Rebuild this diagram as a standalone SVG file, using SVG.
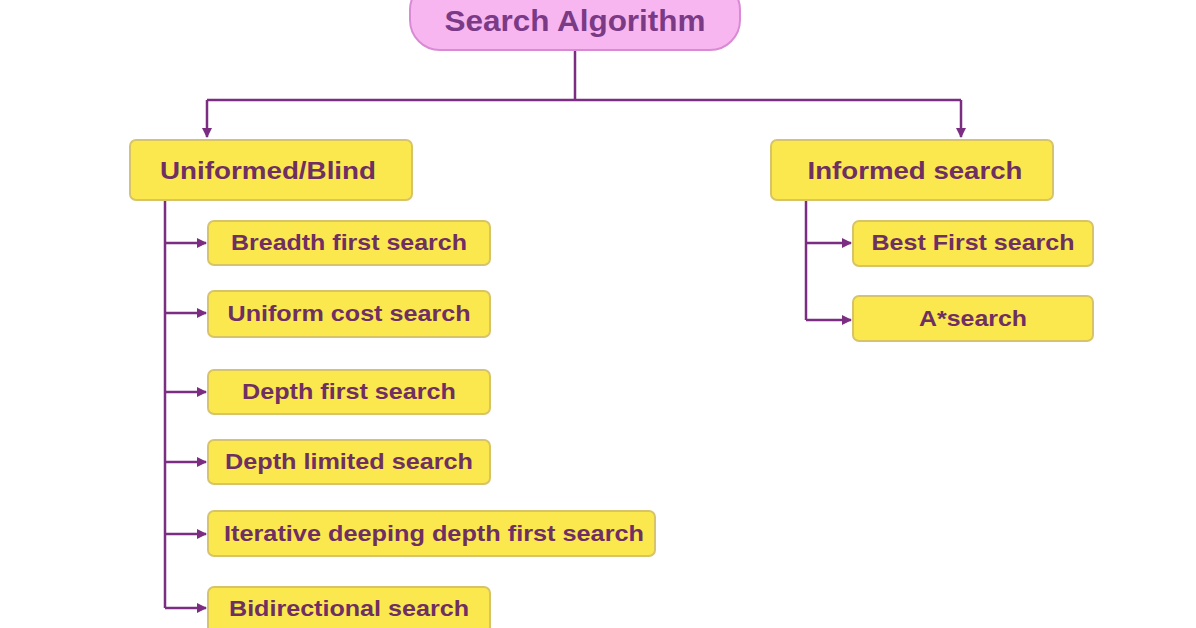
<svg xmlns="http://www.w3.org/2000/svg" width="1196" height="628" viewBox="0 0 1196 628">
<defs>
<marker id="ah" viewBox="0 0 10 10" refX="9" refY="5" markerWidth="10" markerHeight="10" markerUnits="userSpaceOnUse" orient="auto">
<path d="M0,0 L10,5 L0,10 z" fill="#7b2d82"/>
</marker>
<style>
.root{fill:#f8b6f0;stroke:#d88ad4;stroke-width:2}
.box{fill:#fbe84e;stroke:#d8c468;stroke-width:2}
.t{font-family:"Liberation Sans",Arial,sans-serif;font-weight:bold;fill:#6e2f62;text-anchor:middle}
.rt{font-size:29px;fill:#7a3a86}
.h{font-size:24px}
.c{font-size:22px}
.ln{fill:none;stroke:#7b2d82;stroke-width:2.5}
</style>
</defs>
<rect width="1196" height="628" fill="#ffffff"/>
<g id="connectors">
<path class="ln" d="M575,50 V100 M207,100 H961"/>
<path class="ln" d="M207,100 V137" marker-end="url(#ah)"/>
<path class="ln" d="M961,100 V137" marker-end="url(#ah)"/>
<path class="ln" d="M165,200 V608"/>
<path class="ln" d="M165,243 H206" marker-end="url(#ah)"/>
<path class="ln" d="M165,313 H206" marker-end="url(#ah)"/>
<path class="ln" d="M165,392 H206" marker-end="url(#ah)"/>
<path class="ln" d="M165,462 H206" marker-end="url(#ah)"/>
<path class="ln" d="M165,534 H206" marker-end="url(#ah)"/>
<path class="ln" d="M165,608 H206" marker-end="url(#ah)"/>
<path class="ln" d="M806,200 V320"/>
<path class="ln" d="M806,243 H851" marker-end="url(#ah)"/>
<path class="ln" d="M806,320 H851" marker-end="url(#ah)"/>
</g>
<g id="root">
<rect class="root" x="410" y="-20" width="330" height="70" rx="30"/>
<text class="t rt" x="575" y="31" textLength="261" lengthAdjust="spacingAndGlyphs">Search Algorithm</text>
</g>
<g id="uninformed">
<rect class="box" x="130" y="140" width="282" height="60" rx="6"/>
<text class="t h" x="268" y="179" textLength="216" lengthAdjust="spacingAndGlyphs">Uniformed/Blind</text>
</g>
<g id="informed">
<rect class="box" x="771" y="140" width="282" height="60" rx="6"/>
<text class="t h" x="915" y="179" textLength="215" lengthAdjust="spacingAndGlyphs">Informed search</text>
</g>
<g id="bfs">
<rect class="box" x="208" y="221" width="282" height="44" rx="6"/>
<text class="t c" x="349" y="250" textLength="236" lengthAdjust="spacingAndGlyphs">Breadth first search</text>
</g>
<g id="ucs">
<rect class="box" x="208" y="291" width="282" height="46" rx="6"/>
<text class="t c" x="349" y="321" textLength="243" lengthAdjust="spacingAndGlyphs">Uniform cost search</text>
</g>
<g id="dfs">
<rect class="box" x="208" y="370" width="282" height="44" rx="6"/>
<text class="t c" x="349" y="399" textLength="214" lengthAdjust="spacingAndGlyphs">Depth first search</text>
</g>
<g id="dls">
<rect class="box" x="208" y="440" width="282" height="44" rx="6"/>
<text class="t c" x="349" y="469" textLength="248" lengthAdjust="spacingAndGlyphs">Depth limited search</text>
</g>
<g id="iddfs">
<rect class="box" x="208" y="511" width="447" height="45" rx="6"/>
<text class="t c" x="434" y="541" textLength="420" lengthAdjust="spacingAndGlyphs">Iterative deeping depth first search</text>
</g>
<g id="bds">
<rect class="box" x="208" y="587" width="282" height="46" rx="6"/>
<text class="t c" x="349" y="616" textLength="240" lengthAdjust="spacingAndGlyphs">Bidirectional search</text>
</g>
<g id="bestfs">
<rect class="box" x="853" y="221" width="240" height="45" rx="6"/>
<text class="t c" x="973" y="250" textLength="203" lengthAdjust="spacingAndGlyphs">Best First search</text>
</g>
<g id="astar">
<rect class="box" x="853" y="296" width="240" height="45" rx="6"/>
<text class="t c" x="973" y="326" textLength="108" lengthAdjust="spacingAndGlyphs">A*search</text>
</g>
</svg>
